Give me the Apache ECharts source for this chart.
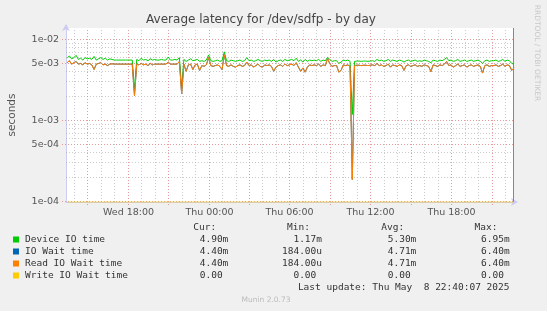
<!DOCTYPE html>
<html><head><meta charset="utf-8">
<script src="https://cdn.jsdelivr.net/npm/echarts@6/dist/echarts.min.js"></script>
<style>html,body{margin:0;padding:0;background:#f0f0f0}#c{width:547px;height:311px}</style>
</head><body><div id="c"></div>
<script>
// ---- data (values in milliseconds, 10-minute samples from Wed 7 May 2025 13:30) ----
const seriesNames = ['Device IO time', 'IO Wait time', 'Read IO Wait time', 'Write IO Wait time'];
const seriesColors = ['#00cc00', '#0066b3', '#ff8000', '#ffcc00'];
const sampleStart = [2025, 4, 7, 13, 30];
const sampleStepMin = 10;

const deviceIoMs = [
  5.8, 6.2, 5.7, 5.9, 6.3, 5.6, 5.8, 5.5, 5.9, 5.7,
  5.8, 5.6, 6.1, 5.5, 5.7, 5.9, 5.6, 5.8, 5.5, 5.7,
  5.6, 5.5, 5.5, 5.5, 5.5, 5.5, 5.5, 5.5, 5.5, 5.5,
  2.4, 5.6, 5.4, 5.8, 5.5, 5.6, 5.4, 5.7, 5.5, 5.6,
  5.5, 5.5, 5.6, 5.5, 5.5, 6.0, 5.5, 5.5, 5.6, 5.5,
  5.9, 2.5, 5.6, 5.3, 5.5, 5.7, 5.4, 5.5, 5.6, 5.3,
  5.4, 5.3, 5.5, 6.35, 5.4, 5.3, 5.4, 5.5, 5.3, 5.4,
  6.95, 5.4, 5.3, 5.5, 5.4, 5.3, 5.4, 5.5, 5.3, 5.4,
  5.9, 5.4, 5.5, 5.3, 5.4, 5.6, 5.4, 5.3, 5.5, 5.4,
  5.5, 5.3, 5.6, 5.2, 5.4, 5.5, 5.3, 5.6, 5.4, 5.5,
  5.6, 5.4, 5.8, 5.3, 5.5, 5.2, 5.6, 5.3, 5.5, 5.4,
  5.5, 5.4, 5.6, 5.3, 5.5, 5.4, 5.95, 5.6, 5.3, 5.4,
  5.4, 5.0, 5.2, 5.5, 5.4, 5.5, 5.3, 1.17, 5.3, 5.35,
  5.35, 5.3, 5.35, 5.35, 5.3, 5.35, 5.4, 5.3, 5.6, 5.4,
  5.5, 5.3, 5.4, 5.6, 5.3, 5.5, 5.4, 5.3, 5.5, 5.4,
  5.2, 5.4, 5.5, 5.3, 5.4, 5.5, 5.3, 5.4, 5.3, 5.5,
  5.4, 5.3, 5.1, 5.5, 5.4, 5.3, 5.5, 5.4, 5.6, 5.9,
  5.4, 5.5, 5.3, 5.4, 5.6, 5.3, 5.4, 5.5, 5.3, 5.4,
  5.5, 5.3, 5.4, 5.5, 5.3, 5.0, 5.4, 5.5, 5.3, 5.4,
  5.4, 5.5, 5.3, 5.4, 5.6, 5.3, 5.5, 5.4, 5.0, 4.9
];
const readWaitMs = [
  5.1, 5.4, 4.9, 5.1, 5.3, 4.9, 5.0, 4.8, 5.1, 4.9,
  5.0, 4.8, 4.2, 4.9, 5.0, 5.1, 4.8, 4.9, 4.7, 4.9,
  4.95, 4.9, 4.9, 4.9, 4.9, 4.9, 4.9, 4.9, 4.9, 4.9,
  2.0, 4.9, 4.8, 5.0, 4.8, 4.9, 4.7, 5.0, 4.8, 4.9,
  4.9, 4.9, 4.9, 4.9, 4.9, 5.2, 4.9, 4.9, 4.9, 4.9,
  5.3, 2.1, 4.9, 4.0, 4.8, 4.9, 4.2, 4.8, 4.9, 4.1,
  4.7, 4.6, 4.8, 5.9, 4.7, 4.6, 4.7, 4.8, 4.6, 4.2,
  6.4, 4.7, 4.6, 4.8, 4.6, 4.5, 4.7, 4.8, 4.6, 4.7,
  5.2, 4.7, 4.8, 4.5, 4.7, 4.9, 4.6, 4.5, 4.8, 4.7,
  4.8, 4.6, 4.0, 4.5, 4.7, 4.8, 4.6, 4.9, 4.7, 4.8,
  4.9, 4.7, 5.1, 4.5, 4.0, 4.4, 3.9, 4.5, 4.8, 4.7,
  4.8, 4.7, 4.9, 4.6, 4.8, 4.7, 5.8, 4.9, 4.6, 4.7,
  4.7, 3.9, 4.1, 4.8, 4.7, 4.8, 4.6, 0.184, 4.7, 4.75,
  4.75, 4.7, 4.75, 4.75, 4.7, 4.75, 4.8, 4.7, 5.0, 4.7,
  4.8, 4.6, 4.7, 4.9, 4.5, 4.8, 4.7, 4.6, 4.8, 4.7,
  4.1, 4.7, 4.8, 4.6, 4.7, 4.8, 4.6, 4.7, 4.6, 4.8,
  4.7, 4.6, 3.95, 4.8, 4.7, 4.6, 4.8, 4.7, 4.9, 5.3,
  4.7, 4.8, 4.5, 4.7, 4.9, 4.6, 4.7, 4.8, 4.5, 4.7,
  4.8, 4.6, 4.7, 4.8, 4.6, 3.8, 4.7, 4.8, 4.6, 4.7,
  4.7, 4.8, 4.6, 4.7, 4.9, 4.6, 4.8, 4.7, 4.1, 4.4
];
// IO Wait time equals Read IO Wait time (identical Cur/Min/Avg/Max), drawn beneath it
const ioWaitMs = readWaitMs.slice();
// Write IO Wait time is 0 throughout
const writeWaitMs = readWaitMs.map(() => 0);

const yTickValues = [1e-2, 5e-3, 1e-3, 5e-4, 1e-4];
const yTickLabels = ['1e-02', '5e-03', '1e-03', '5e-04', '1e-04'];
const xTickLabels = ['Wed 18:00', 'Thu 00:00', 'Thu 06:00', 'Thu 12:00', 'Thu 18:00'];
const xTickTimes = [[2025,4,7,18,0], [2025,4,8,0,0], [2025,4,8,6,0], [2025,4,8,12,0], [2025,4,8,18,0]];

const statCur = ['4.90m', '4.40m', '4.40m', '0.00'];
const statMin = ['1.17m', '184.00u', '184.00u', '0.00'];
const statAvg = ['5.30m', '4.71m', '4.71m', '0.00'];
const statMax = ['6.95m', '6.40m', '6.40m', '0.00'];
const lastUpdate = 'Last update: Thu May  8 22:40:07 2025';

// ---- axis ranges ----
const toMs = a => new Date(a[0], a[1], a[2], a[3], a[4], a[5] || 0).getTime();
const xMin = toMs([2025,4,7,13,25]);
const xMax = toMs([2025,4,8,22,40,7]);
const yMin = 0.97e-4, yMax = 1.37e-2;

const t0 = toMs(sampleStart);
const step = sampleStepMin * 60000;
// rrdtool clamps values below the axis bottom to the bottom edge
const toData = arr => arr.map((v, i) => [t0 + i * step, Math.max(v / 1000, yMin)]);

// ---- grid lines: [x, y, kind(0=h,1=v,2=now), major, labelIndex] ----
const gridItems = [];
for (let d = -4; d <= -2; d++) {
  for (let m = 1; m <= 9; m++) {
    const v = m * Math.pow(10, d);
    if (v > yMax) continue;
    const idx = yTickValues.findIndex(t => Math.abs(t - v) / t < 1e-6);
    gridItems.push([xMin, v, 0, idx >= 0 ? 1 : 0, idx]);
  }
}
const hourMs = 3600000;
const firstHour = toMs([2025,4,7,14,0]);
const xLabelMs = xTickTimes.map(toMs);
for (let t = firstHour; t < xMax; t += hourMs) {
  const h = new Date(t).getHours();
  gridItems.push([t, yMin, 1, h % 3 === 0 ? 1 : 0, xLabelMs.indexOf(t)]);
}
gridItems.push([xMax, yMin, 2, 0, -1]);

const majorStyle = { stroke: 'rgba(225,130,130,0.8)', lineWidth: 1, lineDash: [1, 2] };
const minorStyle = { stroke: 'rgba(175,175,175,0.65)', lineWidth: 1, lineDash: [1, 2] };
const axisFont = '9.5px "DejaVu Sans"';

function renderGrid(params, api) {
  const kind = api.value(2), major = api.value(3), li = api.value(4);
  const ch = [];
  if (kind === 0) {
    const v = api.value(1);
    const a = api.coord([xMin, v]), b = api.coord([xMax, v]);
    const y = Math.round(a[1]) + 0.5;
    ch.push({ type: 'line', shape: { x1: a[0] - (major ? 4 : 0), y1: y, x2: b[0], y2: y }, style: major ? majorStyle : minorStyle });
    if (li >= 0) ch.push({ type: 'text', style: { text: yTickLabels[li], x: a[0] - 7, y: y, align: 'right', verticalAlign: 'middle', font: axisFont, fill: '#555' } });
  } else {
    const t = api.value(0);
    const a = api.coord([t, yMin]), b = api.coord([t, yMax]);
    const x = Math.round(a[0]) + 0.5;
    if (kind === 2) {
      ch.push({ type: 'line', shape: { x1: x - 1, y1: a[1], x2: x - 1, y2: b[1] }, style: { stroke: '#888', lineWidth: 1 } });
    } else {
      ch.push({ type: 'line', shape: { x1: x, y1: a[1] + (major ? 3 : 0), x2: x, y2: b[1] }, style: major ? majorStyle : minorStyle });
      if (li >= 0) ch.push({ type: 'text', style: { text: xTickLabels[li], x: x, y: a[1] + 11, align: 'center', verticalAlign: 'middle', font: axisFont, fill: '#555' } });
    }
  }
  return { type: 'group', children: ch };
}

// ---- legend graphics ----
const mono = 'DejaVu Sans Mono';
const fs = 9.5;
const rowsY = [239.5, 251.5, 263.5, 275.5];
const colEnds = [222.6, 316.3, 410.6, 503.9];
const headers = ['Cur:', 'Min:', 'Avg:', 'Max:'];
const stats = [statCur, statMin, statAvg, statMax];
const graphics = [];
const txt = (x, y, s, align) => graphics.push({
  type: 'text', x: x, y: y, silent: true,
  style: { text: s, font: fs + 'px "' + mono + '"', fill: '#333', align: align || 'left', verticalAlign: 'middle' }
});
headers.forEach((h, c) => txt(colEnds[c] - 6.4, 227.5, h, 'right'));
seriesNames.forEach((n, r) => {
  graphics.push({ type: 'rect', shape: { x: 13, y: rowsY[r] - 3, width: 6, height: 6 }, style: { fill: seriesColors[r] }, silent: true });
  txt(25, rowsY[r], n);
  stats.forEach((col, c) => {
    const s = col[r];
    const unit = /[a-zA-Z]$/.test(s) ? s.slice(-1) : '';
    const num = unit ? s.slice(0, -1) : s;
    txt(colEnds[c], rowsY[r], num, 'right');
    if (unit) txt(colEnds[c], rowsY[r], unit, 'left');
  });
});
txt(509.5, 287.5, lastUpdate, 'right');
graphics.push({ type: 'text', x: 266, y: 300, silent: true, style: { text: 'Munin 2.0.73', font: '7.5px "DejaVu Sans"', fill: '#bbb', align: 'center', verticalAlign: 'middle' } });
graphics.push({ type: 'text', x: 261, y: 20, silent: true, style: { text: 'Average latency for /dev/sdfp - by day', font: '12px "DejaVu Sans"', fill: '#444', align: 'center', verticalAlign: 'middle' } });
graphics.push({ type: 'text', x: 12, y: 115, rotation: Math.PI / 2, silent: true, style: { text: 'seconds', font: '10.5px "DejaVu Sans"', fill: '#555', align: 'center', verticalAlign: 'middle' } });
graphics.push({ type: 'text', x: 537, y: 53, rotation: -Math.PI / 2, silent: true, style: { text: 'RRDTOOL / TOBI OETIKER', font: '7.5px "DejaVu Sans"', fill: '#c8c8c8', align: 'center', verticalAlign: 'middle' } });

const lineSeries = (name, color, arr, z, opacity, clip) => ({
  name: name, type: 'line', data: toData(arr), showSymbol: false, symbol: 'none',
  lineStyle: { color: color, width: 1, opacity: opacity == null ? 1 : opacity }, itemStyle: { color: color },
  z: z, clip: clip !== false
});

const chart = echarts.init(document.getElementById('c'), null, { renderer: 'canvas' });
chart.setOption({
  animation: false,
  backgroundColor: '#f0f0f0',
  grid: { left: 66, right: 33, top: 28, bottom: 109, show: true, backgroundColor: '#ffffff', borderWidth: 0 },
  xAxis: {
    type: 'time', min: xMin, max: xMax,
    axisLabel: { show: false }, axisTick: { show: false }, splitLine: { show: false },
    axisLine: { show: true, lineStyle: { color: '#ccccf0', width: 1 }, symbol: ['none', 'arrow'], symbolSize: [6, 7], symbolOffset: [0, 4] }
  },
  yAxis: {
    type: 'log', logBase: 10, min: yMin, max: yMax,
    axisLabel: { show: false }, axisTick: { show: false }, splitLine: { show: false }, minorTick: { show: false },
    axisLine: { show: true, lineStyle: { color: '#ccccf0', width: 1 }, symbol: ['none', 'arrow'], symbolSize: [6, 7], symbolOffset: [0, 4] }
  },
  graphic: { elements: graphics },
  series: [
    { name: 'grid', type: 'custom', data: gridItems, renderItem: renderGrid, encode: { x: 0, y: 1 }, z: 1, silent: true, clip: false },
    lineSeries(seriesNames[0], seriesColors[0], deviceIoMs, 3),
    lineSeries(seriesNames[1], seriesColors[1], ioWaitMs, 4),
    lineSeries(seriesNames[2], seriesColors[2], readWaitMs, 5),
    lineSeries(seriesNames[3], seriesColors[3], writeWaitMs, 6, 0.6, false)
  ]
});
</script>
</body></html>
